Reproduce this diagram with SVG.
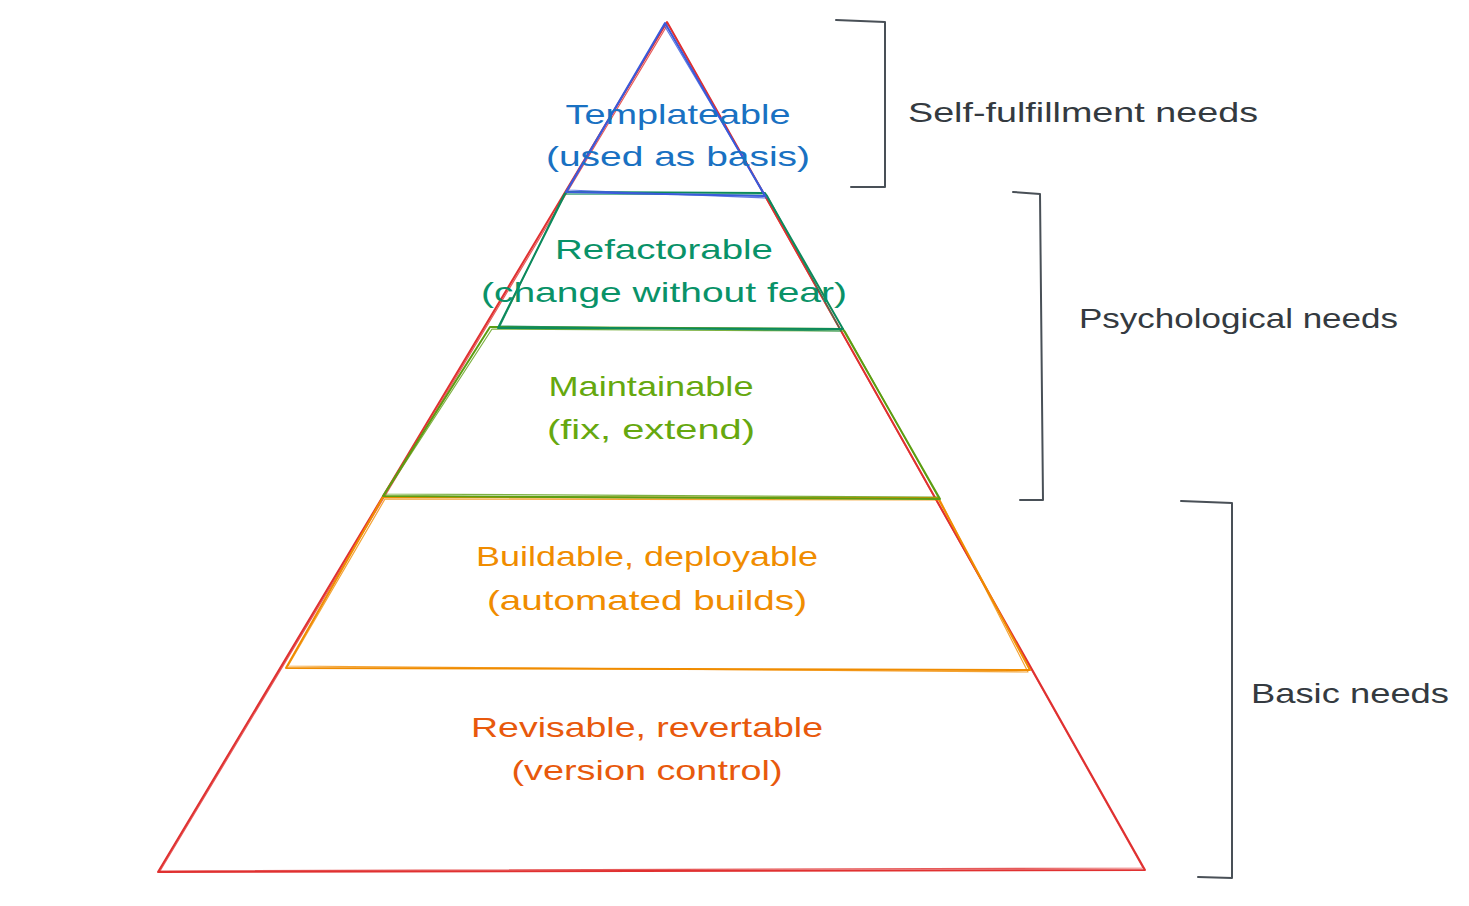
<svg xmlns="http://www.w3.org/2000/svg" width="1469" height="906" viewBox="0 0 1469 906">
<style>
.s{fill:none;stroke-width:2;stroke-linejoin:round;stroke-linecap:round}
.s2{fill:none;stroke-width:1.2;stroke-linejoin:round;stroke-linecap:round;opacity:.8}
.t{font-family:"Liberation Sans","Open Sans",sans-serif;font-size:28px;text-anchor:middle}
.l{font-family:"Liberation Sans","Open Sans",sans-serif;font-size:28px;fill:#343a40}
.red{stroke:#e03131}.blue{stroke:#3b5bdb}.teal{stroke:#0c8a5c}.lime{stroke:#5c9e12}.orange{stroke:#f08c00}.gray{stroke:#495057}
</style>
<rect width="1469" height="906" fill="#ffffff"/>
<g id="pyramid-outline">
<path class="s red" d="M667,22 L1145,870 L158,872 Z"/>
<path class="s2 red" d="M668,24 L1143,868 L160,871 Z"/>
</g>
<g id="layer-revisable">
<text class="t" x="647" y="737" fill="#e8590c" textLength="352" lengthAdjust="spacingAndGlyphs">Revisable, revertable</text>
<text class="t" x="647" y="780" fill="#e8590c" textLength="271" lengthAdjust="spacingAndGlyphs">(version control)</text>
</g>
<g id="layer-buildable">
<path class="s orange" d="M383,497 L938,498 L1030,670 L286,668 Z"/>
<path class="s2 orange" d="M385,499 L940,500 L1028,672 L288,666 Z"/>
<text class="t" x="647" y="566" fill="#f08c00" textLength="342" lengthAdjust="spacingAndGlyphs">Buildable, deployable</text>
<text class="t" x="647" y="610" fill="#f08c00" textLength="320" lengthAdjust="spacingAndGlyphs">(automated builds)</text>
</g>
<g id="layer-maintainable">
<path class="s lime" d="M490,327 L843,329 L940,499 L383,496 Z"/>
<path class="s2 lime" d="M492,329 L845,331 L938,497 L385,494 Z"/>
<text class="t" x="651" y="396" fill="#66a80f" textLength="205" lengthAdjust="spacingAndGlyphs">Maintainable</text>
<text class="t" x="651" y="439" fill="#66a80f" textLength="208" lengthAdjust="spacingAndGlyphs">(fix, extend)</text>
</g>
<g id="layer-refactorable">
<path class="s teal" d="M566,192 L765,193 L843,329 L498,328 Z"/>
<path class="s2 teal" d="M564,194 L767,195 L841,331 L500,326 Z"/>
<text class="t" x="664" y="259" fill="#099268" textLength="218" lengthAdjust="spacingAndGlyphs">Refactorable</text>
<text class="t" x="664" y="302" fill="#099268" textLength="366" lengthAdjust="spacingAndGlyphs">(change without fear)</text>
</g>
<g id="layer-templateable">
<path class="s blue" d="M665,23 L765,196 L566,192 Z"/>
<path class="s2 blue" d="M664,25 L767,198 L568,190 Z"/>
<text class="t" x="678" y="124" fill="#1971c2" textLength="225" lengthAdjust="spacingAndGlyphs">Templateable</text>
<text class="t" x="678" y="166" fill="#1971c2" textLength="264" lengthAdjust="spacingAndGlyphs">(used as basis)</text>
</g>
<g id="connectors">
<path class="s gray" d="M836,20 L885,22 L885,187 L851,187"/>
<path class="s gray" d="M1013,192 L1040,194 L1043,500 L1020,500"/>
<path class="s gray" d="M1181,501 L1232,503 L1232,878 L1198,877"/>
</g>
<g id="label-self-fulfillment">
<text class="l" x="908" y="122" textLength="350" lengthAdjust="spacingAndGlyphs">Self-fulfillment needs</text>
</g>
<g id="label-psychological">
<text class="l" x="1079" y="328" textLength="319" lengthAdjust="spacingAndGlyphs">Psychological needs</text>
</g>
<g id="label-basic">
<text class="l" x="1251" y="703" textLength="198" lengthAdjust="spacingAndGlyphs">Basic needs</text>
</g>
</svg>
